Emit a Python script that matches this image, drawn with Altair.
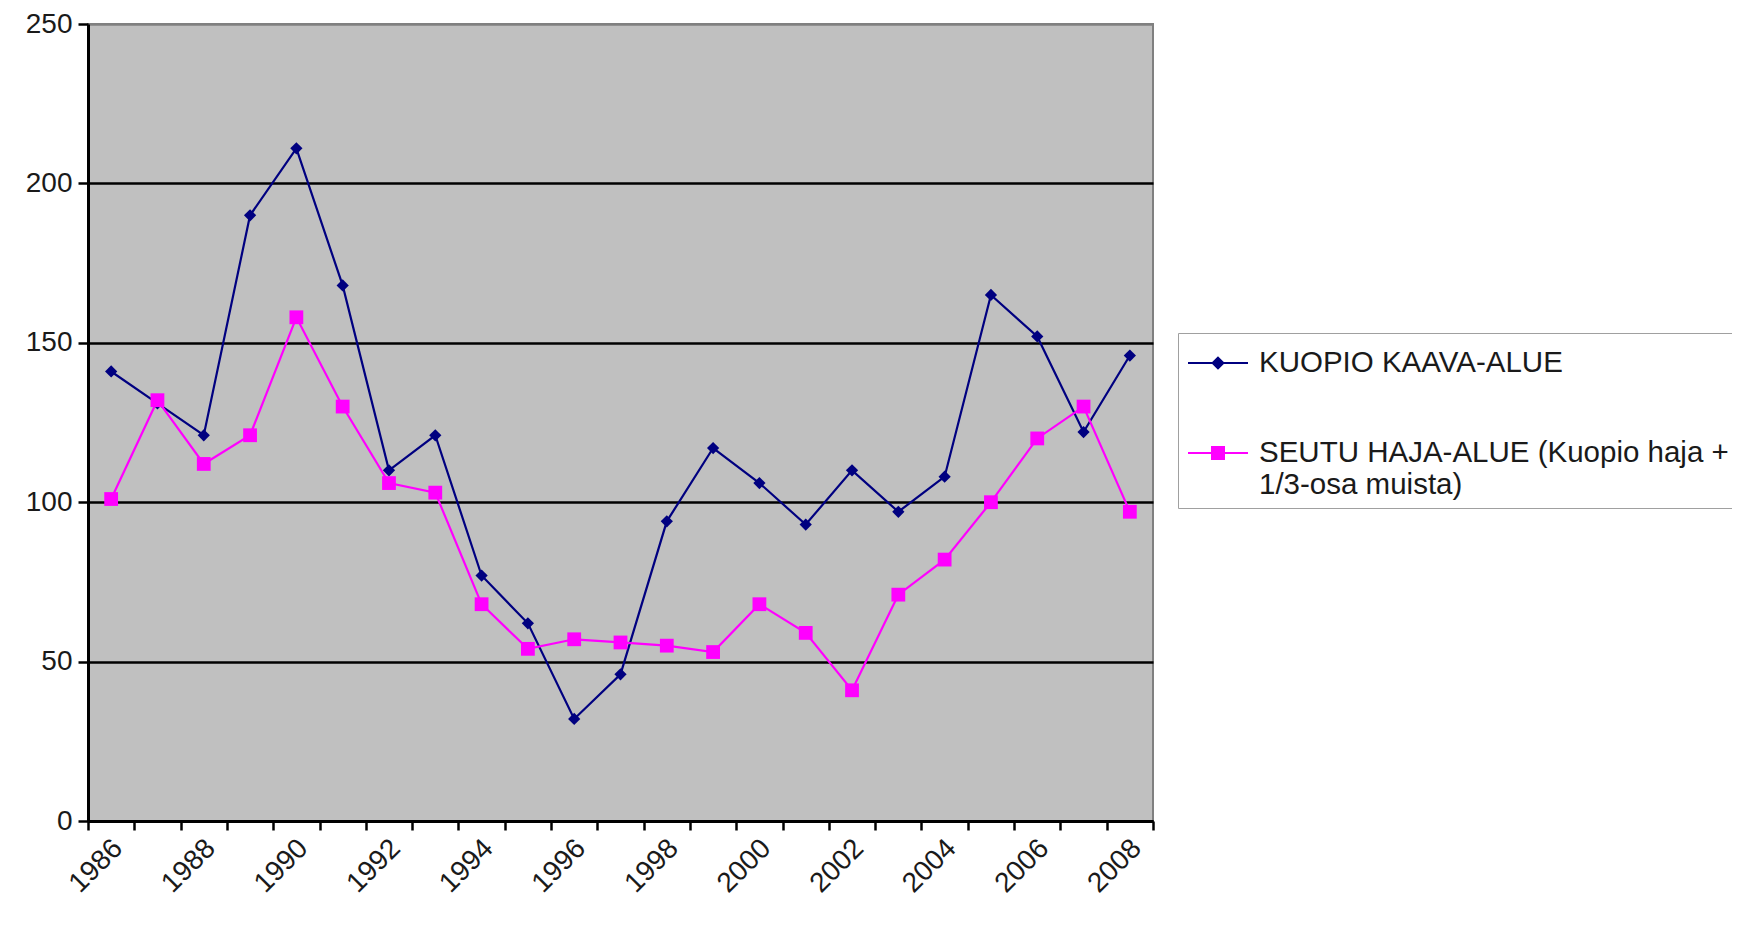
import altair as alt
import pandas as pd

years = [1986, 1987, 1988, 1989, 1990, 1991, 1992, 1993, 1994, 1995, 1996, 1997,
         1998, 1999, 2000, 2001, 2002, 2003, 2004, 2005, 2006, 2007, 2008]
kuopio = [141, 131, 121, 190, 211, 168, 110, 121, 77, 62, 32, 46,
          94, 117, 106, 93, 110, 97, 108, 165, 152, 122, 146]
seutu = [101, 132, 112, 121, 158, 130, 106, 103, 68, 54, 57, 56,
         55, 53, 68, 59, 41, 71, 82, 100, 120, 130, 97]
names = ["KUOPIO KAAVA-ALUE", "SEUTU HAJA-ALUE (Kuopio haja + 1/3-osa muista)"]
colors = ["#000080", "#FF00FF"]
y_ticks = [0, 50, 100, 150, 200, 250]

rows = []
for yr, a, b in zip(years, kuopio, seutu):
    rows.append({"year": yr, "series": names[0], "value": a})
    rows.append({"year": yr, "series": names[1], "value": b})
df = pd.DataFrame(rows)

FONT = "Liberation Sans"
x_tick_values = [y - 0.5 for y in years] + [years[-1] + 0.5]

x_enc = alt.X(
    "year:Q",
    scale=alt.Scale(domain=[years[0] - 0.5, years[-1] + 0.5], nice=False, zero=False),
    axis=alt.Axis(
        values=x_tick_values,
        labelExpr="((datum.value + 0.5) % 2 == 0 && datum.value < 2008) ? '' + (datum.value + 0.5) : ''",
        labelAngle=-45, labelAlign="right", labelBaseline="top",
        labelOffset=20, labelOverlap=False, labelFlush=False,
        labelFontSize=28, labelFont=FONT, labelColor="#1a1a1a", labelPadding=4,
        domainColor="black", domainWidth=3, tickColor="black", tickWidth=2.5, tickSize=9,
        grid=False, title=None,
    ),
)
y_enc = alt.Y(
    "value:Q",
    scale=alt.Scale(domain=[0, 250], nice=False),
    axis=alt.Axis(
        values=y_ticks, labelFontSize=28, labelFont=FONT, labelColor="#1a1a1a",
        labelPadding=6, domainColor="black", domainWidth=3, tickColor="black",
        tickWidth=2.5, tickSize=10, grid=True,
        gridColor={"condition": {"test": "datum.value == 250", "value": "#808080"}, "value": "black"},
        gridWidth=2.5, title=None,
    ),
)

# colour scale for the data marks: domain taken from the data (sorted), no legend
color_nolegend = alt.Color("series:N", scale=alt.Scale(range=colors), legend=None)

leg_paths = [
    "M-1.5,0L1.5,0M0,-0.27L0.27,0L0,0.27L-0.27,0Z",
    "M-1.5,0L1.5,0M-0.3,-0.3L0.3,-0.3L0.3,0.3L-0.3,0.3Z",
]
legend = alt.Legend(
    title=None, orient="none", legendX=1090, legendY=309,
    fillColor="white", strokeColor="#a0a0a0", padding=9,
    labelFontSize=29.5, labelFont=FONT, labelColor="#1a1a1a", labelLimit=700,
    labelExpr="datum.label == 'SEUTU HAJA-ALUE (Kuopio haja + 1/3-osa muista)' ? ['SEUTU HAJA-ALUE (Kuopio haja +', '1/3-osa muista)'] : datum.label",
    symbolSize=1600, symbolStrokeWidth=2, symbolOffset=10, labelOffset=20,
    rowPadding=54, symbolOpacity=1,
)

base = alt.Chart(df)
leg_layer = base.transform_filter("datum.value < 0").mark_point(filled=True, opacity=1).encode(
    x=x_enc, y=y_enc,
    fill=alt.Fill("series:N", scale=alt.Scale(domain=names, range=colors), legend=legend),
    stroke=alt.Stroke("series:N", scale=alt.Scale(domain=names, range=colors), legend=legend),
    shape=alt.Shape("series:N", scale=alt.Scale(domain=names, range=leg_paths), legend=legend),
)
lines = base.mark_line(strokeWidth=2.2).encode(x=x_enc, y=y_enc, color=color_nolegend)
pts_a = base.transform_filter(alt.datum.series == names[0]).mark_point(
    filled=True, shape="diamond", size=150, opacity=1).encode(x=x_enc, y=y_enc, color=color_nolegend)
pts_b = base.transform_filter(alt.datum.series == names[1]).mark_point(
    filled=True, shape="square", size=190, opacity=1).encode(x=x_enc, y=y_enc, color=color_nolegend)

chart = alt.layer(leg_layer, lines, pts_a, pts_b).properties(
    width=1065, height=797,
    background="white",
    autosize=alt.AutoSizeParams(type="none"),
    padding={"left": 80, "top": 16, "right": 579, "bottom": 90},
).configure_view(
    fill="#C0C0C0", stroke="#808080", strokeWidth=2
)

chart.save("out.html", embed_options={"renderer": "svg", "actions": False})
